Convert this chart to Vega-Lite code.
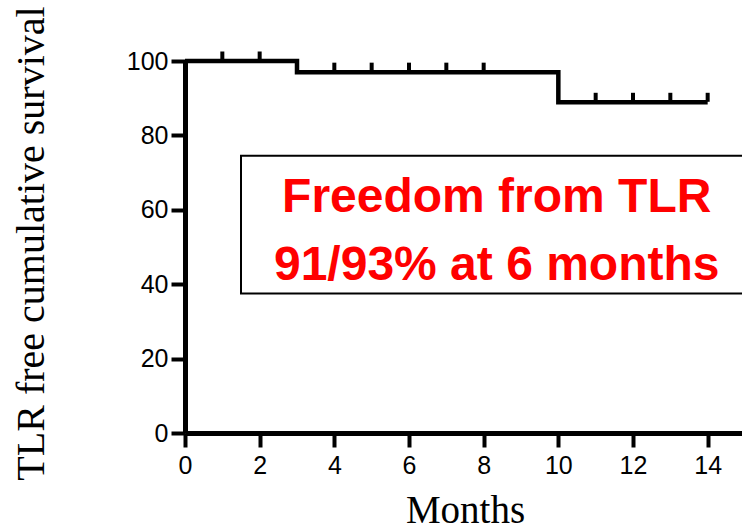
{
  "$schema": "https://vega.github.io/schema/vega-lite/v6.json",
  "autosize": "none",
  "padding": {"left": 185, "top": 61, "right": 0, "bottom": 98},
  "width": 560,
  "height": 372,
  "background": "white",
  "config": {"view": {"stroke": null}},
  "datasets": {
    "curve": [
      {"month": 0, "survival": 100},
      {"month": 3, "survival": 97},
      {"month": 10, "survival": 88.9},
      {"month": 14, "survival": 88.9}
    ],
    "censor": [
      {"month": 1, "survival": 100},
      {"month": 2, "survival": 100},
      {"month": 4, "survival": 97},
      {"month": 5, "survival": 97},
      {"month": 6, "survival": 97},
      {"month": 7, "survival": 97},
      {"month": 8, "survival": 97},
      {"month": 11, "survival": 88.9},
      {"month": 12, "survival": 88.9},
      {"month": 13, "survival": 88.9},
      {"month": 14, "survival": 88.9}
    ],
    "box": [{"x": 1.5, "x2": 16, "y": 74.5, "y2": 37.5}],
    "label": [
      {"x": 8.35, "y": 59.4, "text": "Freedom from TLR"},
      {"x": 8.35, "y": 41.1, "text": "91/93% at 6 months"}
    ]
  },
  "layer": [
    {
      "data": {"name": "box"},
      "mark": {"type": "rect", "fill": "white", "stroke": "black", "strokeWidth": 2},
      "encoding": {
        "x": {"field": "x", "type": "quantitative", "scale": {"domain": [0, 15]}},
        "x2": {"field": "x2"},
        "y": {"field": "y", "type": "quantitative", "scale": {"domain": [0, 100]}},
        "y2": {"field": "y2"}
      }
    },
    {
      "data": {"name": "label"},
      "mark": {"type": "text", "font": "Liberation Sans", "fontSize": 48, "fontWeight": "bold", "fill": "#ff0000", "align": "center", "baseline": "alphabetic"},
      "encoding": {
        "x": {"field": "x", "type": "quantitative"},
        "y": {"field": "y", "type": "quantitative"},
        "text": {"field": "text"}
      }
    },
    {
      "data": {"name": "curve"},
      "mark": {"type": "line", "interpolate": "step-after", "stroke": "black", "strokeWidth": 4.5},
      "encoding": {
        "x": {
          "field": "month", "type": "quantitative",
          "scale": {"domain": [0, 15], "nice": false},
          "axis": {
            "values": [0, 2, 4, 6, 8, 10, 12, 14],
            "grid": false,
            "labelFlush": false,
            "domainColor": "black", "domainWidth": 5,
            "tickColor": "black", "tickWidth": 4, "tickSize": 14,
            "labelFont": "Liberation Sans", "labelFontSize": 25, "labelColor": "black", "labelPadding": 6,
            "title": "Months",
            "titleFont": "Liberation Serif", "titleFontSize": 39, "titleFontWeight": "normal", "titleColor": "black",
            "titleX": 280, "titleY": 89, "titleBaseline": "alphabetic", "titleAlign": "center"
          }
        },
        "y": {
          "field": "survival", "type": "quantitative",
          "scale": {"domain": [0, 100], "nice": false},
          "axis": {
            "values": [0, 20, 40, 60, 80, 100],
            "grid": false,
            "labelFlush": false,
            "domainColor": "black", "domainWidth": 5,
            "tickColor": "black", "tickWidth": 4, "tickSize": 14,
            "labelFont": "Liberation Sans", "labelFontSize": 25, "labelColor": "black", "labelPadding": 3,
            "title": "TLR free cumulative survival",
            "titleFont": "Liberation Serif", "titleFontSize": 40, "titleFontWeight": "normal", "titleColor": "black",
            "titleX": -142, "titleY": 182, "titleAngle": -90, "titleBaseline": "alphabetic", "titleAlign": "center"
          }
        }
      }
    },
    {
      "data": {"name": "censor"},
      "mark": {"type": "tick", "orient": "vertical", "color": "black", "size": 9, "thickness": 4, "yOffset": -5, "opacity": 1},
      "encoding": {
        "x": {"field": "month", "type": "quantitative"},
        "y": {"field": "survival", "type": "quantitative"}
      }
    }
  ]
}
